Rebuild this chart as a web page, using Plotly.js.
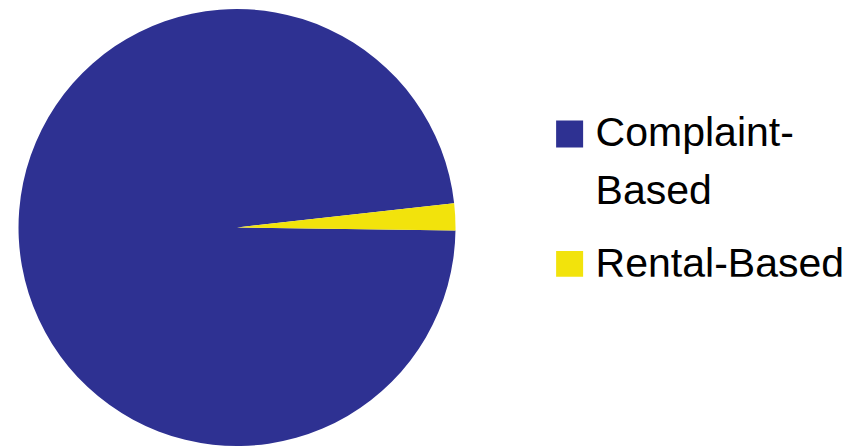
<!DOCTYPE html>
<html>
<head>
<meta charset="utf-8">
<script src="https://cdn.plot.ly/plotly-3.0.1.min.js"></script>
<style>html,body{margin:0;padding:0;background:#fff;}#chart{width:865px;height:446px;}</style>
</head>
<body>
<div id="chart"></div>
<script>
const labels = ["Complaint-<br>Based", "Rental-Based"];
const values = [98, 2];
const colors = ["#2E3192", "#F2E30C"];

const trace = {
  type: "pie",
  labels: labels,
  values: values,
  marker: { colors: colors, line: { width: 0 } },
  sort: false,
  direction: "clockwise",
  rotation: 90.8,
  textinfo: "none",
  hoverinfo: "label+percent",
  domain: { x: [0.0214, 0.5266], y: [0, 1] }
};

const layout = {
  width: 865,
  height: 446,
  margin: { l: 0, r: 0, t: 9, b: 0 },
  paper_bgcolor: "#ffffff",
  plot_bgcolor: "#ffffff",
  showlegend: true,
  legend: {
    x: 0.6354,
    y: 0.79,
    xanchor: "left",
    yanchor: "top",
    valign: "top",
    font: { family: "Liberation Sans, Arial, sans-serif", size: 41, color: "#000000" },
    tracegroupgap: 0,
    itemwidth: 30
  }
};

Plotly.newPlot("chart", [trace], layout, { displayModeBar: false, staticPlot: true }).then(function () {
  document.querySelectorAll(".legendpoints path").forEach(function (p) {
    p.setAttribute("transform", "translate(20,0) scale(2.25)");
  });
  document.querySelectorAll(".legend .legendtext").forEach(function (t) {
    t.setAttribute("transform", "translate(6,-4)");
    const lines = t.querySelectorAll("tspan.line");
    lines.forEach(function (ln, i) {
      if (i > 0) {
        const y = parseFloat(ln.getAttribute("y") || "0");
        ln.setAttribute("y", String(y + 5 * i));
      }
    });
  });
  const items = document.querySelectorAll(".legend .traces");
  if (items.length > 1) {
    const tr = items[1].getAttribute("transform") || "";
    items[1].setAttribute("transform", tr + " translate(0,21)");
  }
});
</script>
</body>
</html>
